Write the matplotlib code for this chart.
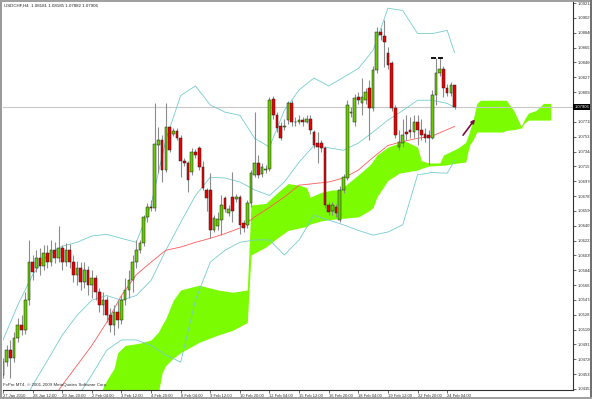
import matplotlib
matplotlib.use("Agg")
import matplotlib.pyplot as plt
from matplotlib.patches import Rectangle

plt.rcParams['font.family'] = ['Liberation Sans', 'DejaVu Sans']

title_text = "USDCHF,H4  1.08181 1.08185 1.07882 1.07906"
copyright_text = "FxPro MT4, \u00a9 2001-2009 MetaQuotes Software Corp."

x_labels = ["27 Jan 2010", "28 Jan 12:00", "29 Jan 20:00", "2 Feb 04:00", "3 Feb 12:00",
            "4 Feb 20:00", "8 Feb 04:00", "9 Feb 12:00", "10 Feb 20:00", "12 Feb 04:00",
            "15 Feb 12:00", "16 Feb 20:00", "18 Feb 04:00", "19 Feb 12:00", "22 Feb 20:00",
            "24 Feb 04:00"]
x_label_bars = [0, 8, 16, 24, 32, 40, 48, 56, 64, 72, 80, 88, 96, 104, 112, 120]

y_tick_values = [1.04352, 1.04539, 1.04726, 1.04913, 1.05100, 1.05287, 1.05474, 1.05661,
                 1.05848, 1.06035, 1.06222, 1.06409, 1.06596, 1.06783, 1.06970, 1.07157,
                 1.07344, 1.07531, 1.07718, 1.08092, 1.08279, 1.08466, 1.08653,
                 1.08840, 1.09027, 1.09214]

opens = [1.0453, 1.0469, 1.0484, 1.0474, 1.0499, 1.0516, 1.0509, 1.0547, 1.0595, 1.0587,
         1.0600, 1.0590, 1.0607, 1.0595, 1.0610, 1.0600, 1.0613, 1.0595, 1.0610, 1.0595,
         1.0579, 1.0587, 1.0570, 1.0585, 1.0566, 1.0575, 1.0557, 1.0541, 1.0547, 1.0528,
         1.0516, 1.0532, 1.0522, 1.0547, 1.0560, 1.0572, 1.0595, 1.0610, 1.0619, 1.0652,
         1.0665, 1.0663, 1.0742, 1.0749, 1.0711, 1.0765, 1.0757, 1.0760, 1.0752, 1.0722,
         1.0720, 1.0708, 1.0734, 1.0739, 1.0715, 1.0686, 1.0686, 1.0635, 1.0640, 1.0648,
         1.0676, 1.0657, 1.0677, 1.0674, 1.0677, 1.0644, 1.0642, 1.0669, 1.0705, 1.0720,
         1.0706, 1.0711, 1.0713, 1.0800, 1.0780, 1.0767, 1.0765, 1.0774, 1.0795, 1.0771,
         1.0771, 1.0774, 1.0772, 1.0776, 1.0759, 1.0745, 1.0745, 1.0739, 1.0667, 1.0660,
         1.0664, 1.0648, 1.0686, 1.0701, 1.0783, 1.0771, 1.0803, 1.0796, 1.0799, 1.0814,
         1.0789, 1.0837, 1.0885, 1.0880, 1.0859, 1.0846, 1.0789, 1.0740, 1.0745, 1.0759,
         1.0761, 1.0759, 1.0771, 1.0761, 1.0757, 1.0755, 1.0752, 1.0805, 1.0833, 1.0839,
         1.0815, 1.0808, 1.08181]
highs = [1.0474, 1.0490, 1.0497, 1.0507, 1.0524, 1.0528, 1.0557, 1.0623, 1.0604, 1.0610,
         1.0613, 1.0616, 1.0616, 1.0623, 1.0620, 1.0640, 1.0616, 1.0619, 1.0618, 1.0604,
         1.0597, 1.0595, 1.0595, 1.0590, 1.0585, 1.0579, 1.0562, 1.0557, 1.0552, 1.0537,
         1.0541, 1.0547, 1.0553, 1.0575, 1.0585, 1.0604, 1.0623, 1.0623, 1.0654, 1.0669,
         1.0673, 1.0795, 1.0765, 1.0755, 1.0795, 1.0767, 1.0764, 1.0764, 1.0755, 1.0726,
         1.0723, 1.0739, 1.0737, 1.0741, 1.0723, 1.0689, 1.0707, 1.0654, 1.0658, 1.0679,
         1.0678, 1.0667, 1.0708, 1.0681, 1.0679, 1.0648, 1.0673, 1.0711, 1.0784, 1.0730,
         1.0720, 1.0717, 1.0803, 1.0804, 1.0784, 1.0771, 1.0776, 1.0798, 1.0799, 1.0778,
         1.0780, 1.0778, 1.0781, 1.0780, 1.0762, 1.0759, 1.0749, 1.0741, 1.0671, 1.0671,
         1.0668, 1.0691, 1.0706, 1.0799, 1.0791, 1.0807, 1.0809, 1.0827, 1.0814, 1.0824,
         1.0842, 1.0891, 1.0890, 1.0900, 1.0866, 1.0849, 1.0793, 1.0761, 1.0776, 1.0780,
         1.0778, 1.0780, 1.0781, 1.0776, 1.0764, 1.0761, 1.0812, 1.0852, 1.0852, 1.0842,
         1.0819, 1.0822, 1.08185]
lows = [1.0449, 1.0464, 1.0449, 1.0469, 1.0494, 1.0503, 1.0505, 1.0541, 1.0572, 1.0582,
        1.0579, 1.0585, 1.0587, 1.0590, 1.0594, 1.0595, 1.0585, 1.0590, 1.0587, 1.0570,
        1.0566, 1.0560, 1.0562, 1.0553, 1.0550, 1.0547, 1.0532, 1.0528, 1.0519, 1.0507,
        1.0503, 1.0512, 1.0517, 1.0541, 1.0550, 1.0557, 1.0587, 1.0606, 1.0615, 1.0645,
        1.0660, 1.0660, 1.0707, 1.0696, 1.0708, 1.0734, 1.0754, 1.0749, 1.0702, 1.0716,
        1.0683, 1.0705, 1.0726, 1.0711, 1.0686, 1.0660, 1.0626, 1.0633, 1.0636, 1.0629,
        1.0658, 1.0653, 1.0645, 1.0671, 1.0631, 1.0633, 1.0638, 1.0665, 1.0702, 1.0701,
        1.0702, 1.0707, 1.0710, 1.0776, 1.0759, 1.0749, 1.0761, 1.0769, 1.0767, 1.0767,
        1.0769, 1.0767, 1.0770, 1.0757, 1.0739, 1.0720, 1.0734, 1.0663, 1.0654, 1.0655,
        1.0652, 1.0645, 1.0682, 1.0698, 1.0778, 1.0767, 1.0794, 1.0780, 1.0794, 1.0749,
        1.0785, 1.0833, 1.0875, 1.0841, 1.0839, 1.0786, 1.0751, 1.0736, 1.0740, 1.0749,
        1.0752, 1.0752, 1.0742, 1.0749, 1.0746, 1.0717, 1.0750, 1.0793, 1.0829, 1.0803,
        1.0804, 1.0804, 1.07882]
closes = [1.0469, 1.0484, 1.0474, 1.0499, 1.0516, 1.0509, 1.0547, 1.0595, 1.0582, 1.0600,
          1.0590, 1.0607, 1.0595, 1.0610, 1.0600, 1.0613, 1.0595, 1.0610, 1.0595, 1.0579,
          1.0587, 1.0570, 1.0585, 1.0566, 1.0575, 1.0557, 1.0541, 1.0547, 1.0528, 1.0516,
          1.0532, 1.0522, 1.0547, 1.0560, 1.0572, 1.0595, 1.0610, 1.0619, 1.0652, 1.0665,
          1.0663, 1.0744, 1.0749, 1.0711, 1.0765, 1.0736, 1.0760, 1.0752, 1.0722, 1.0720,
          1.0698, 1.0734, 1.0730, 1.0715, 1.0688, 1.0676, 1.0635, 1.0650, 1.0649, 1.0667,
          1.0662, 1.0662, 1.0660, 1.0677, 1.0642, 1.0638, 1.0669, 1.0707, 1.0720, 1.0705,
          1.0715, 1.0713, 1.0799, 1.0780, 1.0764, 1.0752, 1.0767, 1.0795, 1.0771, 1.0772,
          1.0774, 1.0771, 1.0776, 1.0761, 1.0742, 1.0740, 1.0739, 1.0667, 1.0658, 1.0667,
          1.0657, 1.0686, 1.0702, 1.0793, 1.0784, 1.0802, 1.0799, 1.0803, 1.0809, 1.0789,
          1.0837, 1.0885, 1.0881, 1.0872, 1.0843, 1.0789, 1.0755, 1.0746, 1.0755, 1.0756,
          1.0759, 1.0771, 1.0761, 1.0755, 1.0752, 1.0752, 1.0805, 1.0833, 1.0839, 1.0814,
          1.0808, 1.0818, 1.07906]

band_bars = [0, 4, 8, 12, 16, 20, 24, 28, 32, 36, 40, 44, 48, 52, 56, 60, 64, 68, 72,
             76, 80, 84, 88, 92, 96, 100, 104, 108, 112, 116, 120, 122]
bb_upper = [1.0497, 1.0541, 1.0579, 1.0604, 1.0615, 1.0620, 1.0628, 1.0630, 1.0625, 1.0620,
            1.0667, 1.0749, 1.0805, 1.0817, 1.0793, 1.0784, 1.0780, 1.0751, 1.0740, 1.0786,
            1.0812, 1.0827, 1.0817, 1.0828, 1.0839, 1.0862, 1.0915, 1.0912, 1.0883, 1.0883,
            1.0887, 1.0859]
bb_middle = [1.0371, 1.0402, 1.0440, 1.0471, 1.0503, 1.0528, 1.0547, 1.0553, 1.0547, 1.0553,
             1.0572, 1.0610, 1.0645, 1.0679, 1.0702, 1.0701, 1.0696, 1.0686, 1.0679, 1.0696,
             1.0721, 1.0742, 1.0739, 1.0736, 1.0745, 1.0759, 1.0774, 1.0786, 1.0799, 1.0799,
             1.0795, 1.0790]
bb_lower = [1.0245, 1.0270, 1.0308, 1.0345, 1.0383, 1.0424, 1.0453, 1.0484, 1.0497, 1.0497,
            1.0490, 1.0478, 1.0469, 1.0547, 1.0595, 1.0610, 1.0620, 1.0623, 1.0623, 1.0604,
            1.0623, 1.0654, 1.0648, 1.0642, 1.0635, 1.0629, 1.0633, 1.0642, 1.0705, 1.0708,
            1.0707, 1.0723]

ma_bars = [14, 16, 20, 24, 28, 32, 36, 40, 44, 48, 52, 56, 60, 64, 68, 72, 76, 80, 84,
           88, 92, 96, 100, 104, 108, 112, 116, 120, 122]
ma_values = [1.0427, 1.0440, 1.0465, 1.0490, 1.0519, 1.0553, 1.0579, 1.0595, 1.0610, 1.0614,
             1.0620, 1.0625, 1.0631, 1.0638, 1.0652, 1.0664, 1.0677, 1.0692, 1.0694, 1.0696,
             1.0701, 1.0711, 1.0727, 1.0742, 1.0747, 1.0751, 1.0754, 1.0762, 1.0766]

cloud_bars = [26, 28, 30, 31, 33, 37, 40, 42, 43, 44, 46, 48, 53, 58, 62, 66, 67, 71, 74, 77,
              80, 82, 83, 86, 89, 91, 96, 99, 100, 101, 104, 107, 108, 112, 113, 115, 118, 119,
              123, 125, 126, 127, 128, 129, 135, 136, 138, 140, 141, 142, 144, 146, 148]
cloud_top = [1.0427, 1.0446, 1.0461, 1.0481, 1.0490, 1.0493, 1.0497, 1.0507, 1.0516, 1.0524,
             1.0547, 1.0560, 1.0566, 1.0560, 1.0557, 1.0560, 1.0667, 1.0669, 1.0682, 1.0694,
             1.0692, 1.0689, 1.0677, 1.0683, 1.0686, 1.0686, 1.0705, 1.0717, 1.0723, 1.0730,
             1.0740, 1.0745, 1.0749, 1.0740, 1.0723, 1.0720, 1.0720, 1.0730, 1.0739, 1.0746,
             1.0759, 1.0774, 1.0795, 1.0799, 1.0799, 1.0799, 1.0786, 1.0766, 1.0776, 1.0783,
             1.0786, 1.0795, 1.0795]
cloud_bottom = [1.0396, 1.0396, 1.0396, 1.0396, 1.0396, 1.0396, 1.0408, 1.0431, 1.0456, 1.0465,
                1.0474, 1.0481, 1.0494, 1.0503, 1.0509, 1.0519, 1.0604, 1.0614, 1.0625, 1.0635,
                1.0638, 1.0640, 1.0643, 1.0647, 1.0649, 1.0650, 1.0652, 1.0660, 1.0664, 1.0677,
                1.0698, 1.0707, 1.0708, 1.0711, 1.0713, 1.0716, 1.0717, 1.0717, 1.0720, 1.0721,
                1.0742, 1.0749, 1.0759, 1.0759, 1.0759, 1.0761, 1.0762, 1.0764, 1.0771, 1.0774,
                1.0774, 1.0774, 1.0774]

double_top_marks = [116.4, 118.3]
double_top_level = 1.0852
arrow_start = (124.3, 1.0755)
arrow_end = (127.5, 1.0775)

W, H = 592, 399
fig = plt.figure(figsize=(W / 100, H / 100), dpi=100)
fig.patch.set_facecolor('white')
ax = fig.add_axes([3 / W, 9 / H, 570 / W, 388 / H])
ax.set_xlim(0.27, 154.0)
ax.set_ylim(1.04339, 1.09228)
ax.set_facecolor('white')

ax.fill_between(cloud_bars, cloud_bottom, cloud_top, color='#7cfc00', lw=0, zorder=1)
ax.axhline(closes[-1], color='#c8c8c8', lw=0.8, zorder=1.5)

for band in (bb_upper, bb_middle, bb_lower):
    ax.plot(band_bars, band, color='#74cdd0', lw=0.6, zorder=2)
ax.plot(ma_bars, ma_values, color='#ff5a5a', lw=0.6, zorder=2)

for i, (o, h, l, c) in enumerate(zip(opens, highs, lows, closes)):
    ax.vlines(i, l, h, color='#8c8c8c', lw=0.8, zorder=3)
    bottom = min(o, c)
    height = max(abs(c - o), 0.00006)
    fc = '#66cc00' if c >= o else '#ee0000'
    ax.add_patch(Rectangle((i - 0.36, bottom), 0.72, height, facecolor=fc,
                           edgecolor='#202020', lw=0.35, zorder=4))

for m in double_top_marks:
    ax.hlines(double_top_level, m - 0.7, m + 0.7, color='black', lw=1.3, zorder=5)
ax.annotate('', xy=arrow_end, xytext=arrow_start,
            arrowprops=dict(arrowstyle='-|>', color='#7a1040', lw=1.2,
                            mutation_scale=5, shrinkA=0, shrinkB=0), zorder=5)

for s in ('left', 'top'):
    ax.spines[s].set_visible(False)
for s in ('right', 'bottom'):
    ax.spines[s].set_color('#303030')
    ax.spines[s].set_linewidth(0.8)
ax.yaxis.tick_right()
ax.set_yticks(y_tick_values)
ax.set_yticklabels([f"{v:.5f}" for v in y_tick_values])
ax.tick_params(axis='y', direction='out', length=2, width=0.5, pad=1.2,
               labelsize=3.0, colors='#303030')
ax.set_xticks(x_label_bars)
ax.set_xticklabels(x_labels, ha='left')
ax.tick_params(axis='x', direction='out', length=2.5, width=0.5, pad=0.3,
               labelsize=3.0, colors='#303030')

ax.text(1.003, closes[-1], f"{closes[-1]:.5f}", transform=ax.get_yaxis_transform(),
        ha='left', va='center', fontsize=3.0, color='white',
        bbox=dict(boxstyle='square,pad=0.3', fc='black', ec='black', lw=0))

fig.text(4 / W, 1 - 5.5 / H, title_text, ha='left', va='center', fontsize=3.2, color='#202020')
fig.text(3 / W, 1 - 385 / H, copyright_text, ha='left', va='center', fontsize=3.2, color='#303030')

fig.add_artist(Rectangle((0, 0), 2 / W, 1, transform=fig.transFigure, color='#9a9a9a', lw=0))
fig.add_artist(Rectangle((0, 1 - 1.5 / H), 1, 1.5 / H, transform=fig.transFigure, color='#a0a0a0', lw=0))
fig.add_artist(Rectangle((1 - 2.5 / W, 0), 2.5 / W, 1, transform=fig.transFigure, color='#707070', lw=0))
fig.add_artist(Rectangle((0, 0), 1, 2 / H, transform=fig.transFigure, color='#a0a0a0', lw=0))

fig.savefig('out.png', dpi=100, facecolor='white')
